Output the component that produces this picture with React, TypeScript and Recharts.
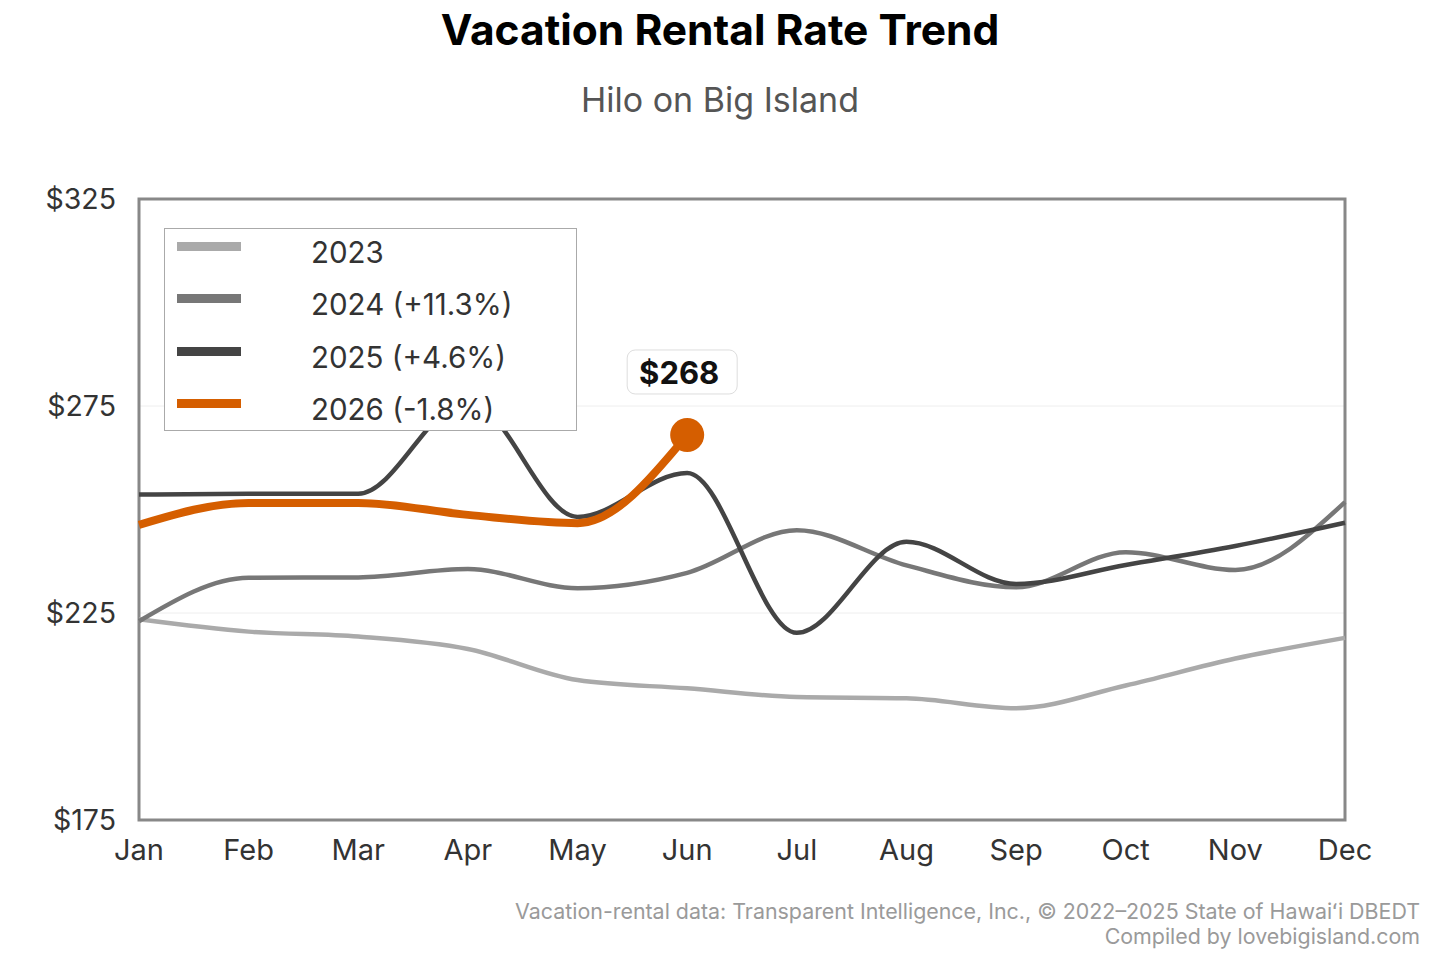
import {
    LineChart,
    Line,
    XAxis,
    YAxis,
    CartesianGrid,
    ReferenceArea,
} from "recharts";

const months = ["Jan", "Feb", "Mar", "Apr", "May", "Jun", "Jul", "Aug", "Sep", "Oct", "Nov", "Dec"];

const rates2023 = [223.5, 220.5, 219.3, 216.3, 208.8, 206.8, 204.7, 204.4, 202.0, 207.5, 214.0, 219.0];
const rates2024 = [223.0, 233.5, 233.6, 235.6, 231.0, 234.7, 245.0, 236.5, 231.2, 239.7, 235.4, 251.8];
const rates2025 = [253.6, 253.8, 253.8, 276.4, 248.2, 258.8, 220.2, 242.2, 232.0, 236.6, 241.2, 246.8];
const rates2026 = [246.3, 251.6, 251.6, 248.7, 246.7, 268.0, null, null, null, null, null, null];

const seriesKeys = ["y2023", "y2024", "y2025", "y2026"];
const seriesNames = ["2023", "2024 (+11.3%)", "2025 (+4.6%)", "2026 (-1.8%)"];
const seriesColors = ["#aaaaaa", "#777777", "#444444", "#d55e00"];

const yTicks = [175, 225, 275, 325];

const chartData = months.map((m, i) => ({
    month: m,
    y2023: rates2023[i],
    y2024: rates2024[i],
    y2025: rates2025[i],
    y2026: rates2026[i],
}));

const lastIdx2026 = rates2026.reduce((acc: number, v, i) => (v != null ? i : acc), -1);

const FONT = "Inter, 'Noto Sans', sans-serif";

const renderEndDot = (props: any) => {
    const { cx, cy, index } = props;
    if (index !== lastIdx2026 || cx == null || cy == null) return <g key={`d-${index}`} />;
    return <circle key={`d-${index}`} cx={cx} cy={cy} r={17} fill="#d55e00" />;
};

const renderEndLabel = (props: any) => {
    const { x, y, value, index } = props;
    if (value == null || x == null || y == null) return null;
    if (index != null ? index !== lastIdx2026 : value !== rates2026[lastIdx2026]) return null;
    const bx = Number(x) - 60;
    const by = Number(y) - 85;
    return (
        <g>
            <rect x={bx} y={by} width={110} height={44} rx={8} fill="#fff" stroke="#dddddd" strokeWidth={1} />
            <text
                x={bx + 52}
                y={by + 23}
                textAnchor="middle"
                dominantBaseline="central"
                fontFamily={FONT}
                fontWeight={700}
                fontSize={31}
                fill="#111"
            >
                {`$${Math.round(Number(value))}`}
            </text>
        </g>
    );
};

function LegendBox() {
    return (
        <div
            style={{
                position: "absolute",
                left: 164,
                top: 228,
                boxSizing: "border-box",
                width: 413,
                height: 203,
                background: "#fff",
                border: "1.5px solid #aaaaaa",
                fontFamily: FONT,
            }}
        >
            {seriesNames.map((name, i) => (
                <div
                    key={name}
                    style={{ position: "absolute", left: 0, top: 23 + i * 52.3 - 20, height: 40, width: 400 }}
                >
                    <div
                        style={{
                            position: "absolute",
                            left: 12,
                            top: 10,
                            width: 64,
                            height: 9,
                            background: seriesColors[i],
                        }}
                    />
                    <span
                        style={{
                            position: "absolute",
                            left: 146,
                            top: 0,
                            lineHeight: "40px",
                            fontSize: 29.5,
                            color: "#333",
                            whiteSpace: "nowrap",
                        }}
                    >
                        {name}
                    </span>
                </div>
            ))}
        </div>
    );
}

export default function App() {
    return (
        <div style={{ position: "absolute", left: 0, top: 0, width: 1440, height: 960, background: "#fff", fontFamily: FONT }}>
            <div style={{ position: "absolute", left: 0, top: 7, width: 1440, textAlign: "center", fontSize: 42.5, lineHeight: "46px", fontWeight: 700, color: "#000" }}>
                Vacation Rental Rate Trend
            </div>
            <div style={{ position: "absolute", left: 0, top: 81, width: 1440, textAlign: "center", fontSize: 34, lineHeight: "38px", color: "#555" }}>
                Hilo on Big Island
            </div>

            <LineChart
                width={1440}
                height={960}
                data={chartData}
                margin={{ top: 199, right: 95, left: 0, bottom: 0 }}
            >
                <CartesianGrid vertical={false} stroke="#eeeeee" strokeWidth={1} />
                <XAxis
                    dataKey="month"
                    height={140}
                    axisLine={false}
                    tickLine={false}
                    tickSize={0}
                    tickMargin={19}
                    interval={0}
                    tick={{ fontSize: 29, fill: "#333", fontFamily: FONT }}
                />
                <YAxis
                    width={139}
                    domain={[175, 325]}
                    ticks={yTicks}
                    axisLine={false}
                    tickLine={false}
                    tickSize={0}
                    tickMargin={23}
                    tickFormatter={(v) => `$${v}`}
                    tick={{ fontSize: 28.5, fill: "#333", fontFamily: FONT }}
                />
                <ReferenceArea
                    x1="Jan"
                    x2="Dec"
                    y1={175}
                    y2={325}
                    fill="none"
                    fillOpacity={0}
                    stroke="#888888"
                    strokeWidth={3}
                />
                {seriesKeys.map((k, i) => (
                    <Line
                        key={k}
                        type="monotone"
                        dataKey={k}
                        name={seriesNames[i]}
                        stroke={seriesColors[i]}
                        strokeWidth={k === "y2026" ? 8 : 4.5}
                        dot={k === "y2026" ? renderEndDot : false}
                        activeDot={false}
                        label={k === "y2026" ? renderEndLabel : false}
                        connectNulls={false}
                        isAnimationActive={false}
                    />
                ))}
            </LineChart>

            <LegendBox />

            <div style={{ position: "absolute", right: 20, top: 899, textAlign: "right", fontSize: 21.4, lineHeight: "25px", color: "#9a9a9a" }}>
                <div>Vacation-rental data: Transparent Intelligence, Inc., © 2022–2025 State of Hawaiʻi DBEDT</div>
                <div>Compiled by lovebigisland.com</div>
            </div>
        </div>
    );
}
